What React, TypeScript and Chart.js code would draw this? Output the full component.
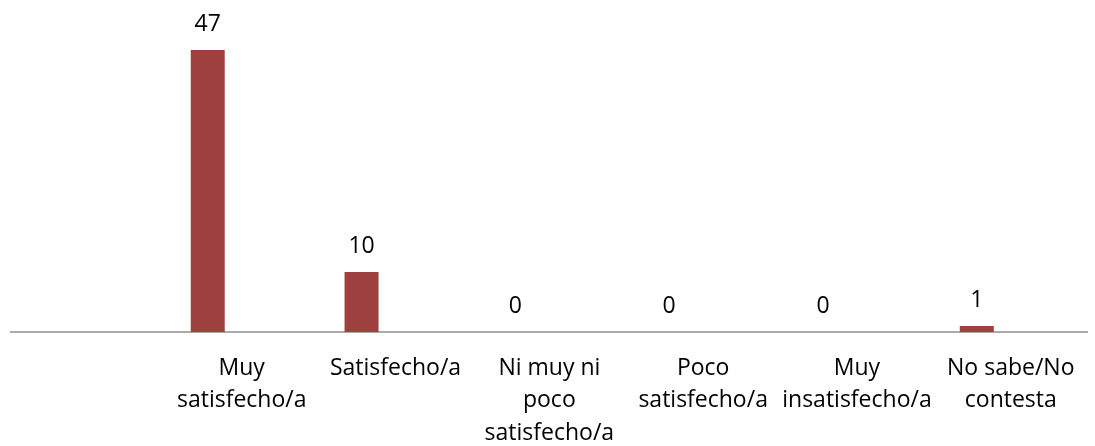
import React, { useEffect, useRef } from "react";
import { Chart, registerables } from "chart.js";

Chart.register(...registerables);

const categories: string[][] = [
  [""],
  ["Muy", "satisfecho/a"],
  ["Satisfecho/a"],
  ["Ni muy ni", "poco", "satisfecho/a"],
  ["Poco", "satisfecho/a"],
  ["Muy", "insatisfecho/a"],
  ["No sabe/No", "contesta"],
];
const values: (number | null)[] = [null, 47, 10, 0, 0, 0, 1];
const emptySeriesA: (number | null)[] = [null, null, null, null, null, null, null];
const emptySeriesB: (number | null)[] = [null, null, null, null, null, null, null];

const FONT = "'Open Sans', sans-serif";
const FONT_SIZE = 23;
const BAR_COLOR = "#9E413E";

const dataLabelPlugin = {
  id: "dataLabels",
  afterDatasetsDraw(chart: any) {
    const ctx = chart.ctx;
    const meta = chart.getDatasetMeta(0);
    ctx.save();
    ctx.font = `${FONT_SIZE}px ${FONT}`;
    ctx.fillStyle = "#000";
    ctx.textAlign = "center";
    ctx.textBaseline = "alphabetic";
    meta.data.forEach((el: any, i: number) => {
      const v = values[i];
      if (v === null || v === undefined) return;
      ctx.fillText(String(v), el.x, el.y - 19);
    });
    ctx.restore();
  },
};

export default function App() {
  const ref = useRef<HTMLCanvasElement | null>(null);
  useEffect(() => {
    if (!ref.current) return;
    const chart = new Chart(ref.current, {
      type: "bar",
      data: {
        labels: categories,
        datasets: [
          { data: values, backgroundColor: BAR_COLOR, categoryPercentage: 0.663, barPercentage: 1 },
          { data: emptySeriesA, backgroundColor: BAR_COLOR, categoryPercentage: 0.663, barPercentage: 1 },
          { data: emptySeriesB, backgroundColor: BAR_COLOR, categoryPercentage: 0.663, barPercentage: 1 },
        ],
      },
      options: {
        animation: false,
        responsive: false,
        maintainAspectRatio: false,
        layout: { padding: { left: 11, right: 7, top: 32, bottom: 0 } },
        plugins: { legend: { display: false }, tooltip: { enabled: false } },
        scales: {
          x: {
            grid: { display: false, drawTicks: false },
            border: { display: true, color: "#ababab", width: 2 },
            ticks: {
              autoSkip: false,
              maxRotation: 0,
              minRotation: 0,
              padding: 20,
              color: "#000",
              font: { family: FONT, size: FONT_SIZE, lineHeight: 1.41 },
            },
            afterFit(scale: any) {
              scale.height = 114;
            },
          },
          y: { display: false, min: 0, max: 50 },
        },
      },
      plugins: [dataLabelPlugin],
    });
    return () => chart.destroy();
  }, []);
  return (
    <div style={{ position: "absolute", left: 0, top: 0, width: 1095, height: 446, background: "#fff" }}>
      <canvas ref={ref} width={1095} height={446} style={{ display: "block" }} />
    </div>
  );
}
